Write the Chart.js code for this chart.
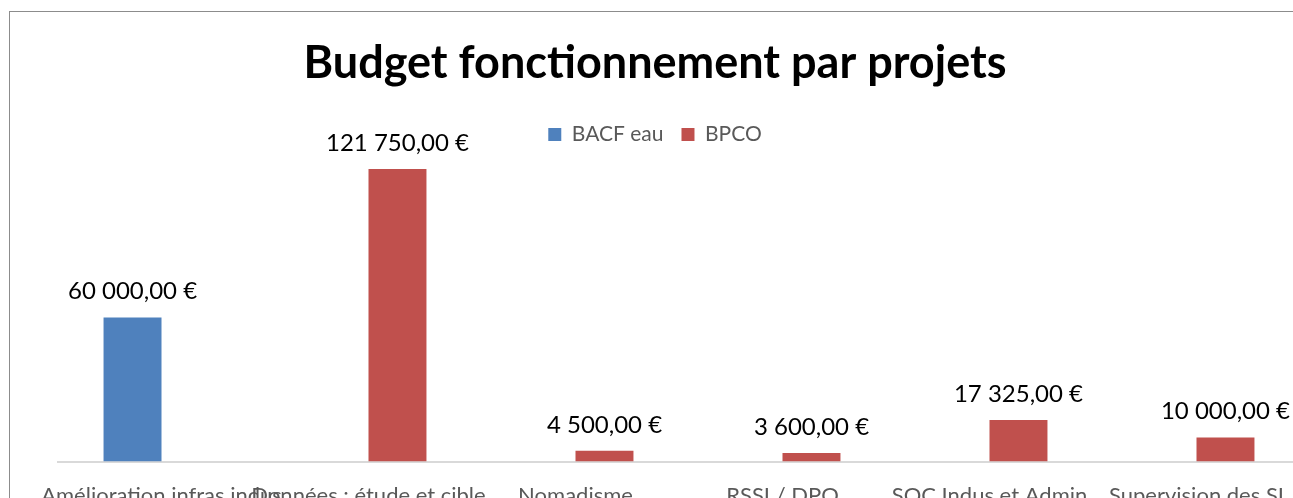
<!DOCTYPE html>
<html>
<head>
<meta charset="utf-8">
<script src="https://cdn.jsdelivr.net/npm/chart.js@4.4.1/dist/chart.umd.min.js"></script>
<style>
  body { margin: 0; width: 1293px; height: 498px; overflow: hidden; background: #fff; position: relative; }
  #frame { position: absolute; left: 9px; top: 11px; width: 1400px; height: 600px; border: 1px solid #8c8c8c; }
  #wrap { position: absolute; left: 10px; top: 12px; width: 1296px; height: 530px; }
</style>
</head>
<body>
<div id="frame"></div>
<div id="wrap"><canvas id="budgetChart"></canvas></div>
<script>
  // Données
  const projets = ['Amélioration infras indus', 'Données : étude et cible', 'Nomadisme', 'RSSI / DPO', 'SOC Indus et Admin', 'Supervision des SI'];
  const bacfEau = [60000, null, null, null, null, null];
  const bpco = [null, 121750, 4500, 3600, 17325, 10000];

  const FONT = 'Lato, "Open Sans", sans-serif';

  // 121750 -> "121 750,00 €"
  function formatEuro(v) {
    const parts = v.toFixed(2).split('.');
    const entier = parts[0].replace(/\B(?=(\d{3})+(?!\d))/g, ' ');
    return entier + ',' + parts[1] + ' €';
  }

  // étiquettes de valeur au-dessus des barres
  const valueLabels = {
    id: 'valueLabels',
    afterDatasetsDraw(chart) {
      const ctx = chart.ctx;
      ctx.save();
      ctx.font = '24px ' + FONT;
      ctx.fillStyle = '#000';
      ctx.textAlign = 'center';
      ctx.textBaseline = 'bottom';
      chart.data.datasets.forEach((ds, i) => {
        const meta = chart.getDatasetMeta(i);
        meta.data.forEach((bar, j) => {
          const v = ds.data[j];
          if (v === null || v === undefined) return;
          ctx.fillText(formatEuro(v), bar.x, bar.y - 14);
        });
      });
      ctx.restore();
    }
  };

  new Chart(document.getElementById('budgetChart'), {
    type: 'bar',
    data: {
      labels: projets,
      datasets: [
        { label: 'BACF eau', data: bacfEau, backgroundColor: '#4f81bd' },
        { label: 'BPCO', data: bpco, backgroundColor: '#c0504d' }
      ]
    },
    options: {
      responsive: true,
      maintainAspectRatio: false,
      animation: false,
      categoryPercentage: 0.56,
      barPercentage: 1.0,
      layout: { padding: { left: 0, right: 6, top: 0, bottom: 20 } },
      plugins: {
        title: {
          display: true,
          text: 'Budget fonctionnement par projets',
          color: '#000',
          font: { family: FONT, size: 45, weight: 'bold' },
          padding: { top: 24, bottom: 16 }
        },
        legend: {
          display: true,
          labels: {
            color: '#595959',
            font: { family: FONT, size: 21 },
            boxWidth: 13,
            boxHeight: 13,
            padding: 18
          }
        },
        tooltip: { enabled: false }
      },
      scales: {
        x: {
          grid: { display: false },
          border: { display: true, color: '#d9d9d9', width: 2 },
          ticks: {
            color: '#595959',
            font: { family: FONT, size: 22 },
            autoSkip: false,
            maxRotation: 0,
            padding: 13
          }
        },
        y: {
          // axe invisible, il ne sert qu'à réserver la marge de gauche
          display: true,
          min: 0,
          max: 127600,
          grid: { display: false },
          border: { display: false },
          ticks: { display: false },
          afterFit(scale) { scale.width = 48; }
        }
      }
    },
    plugins: [valueLabels]
  });
</script>
</body>
</html>
